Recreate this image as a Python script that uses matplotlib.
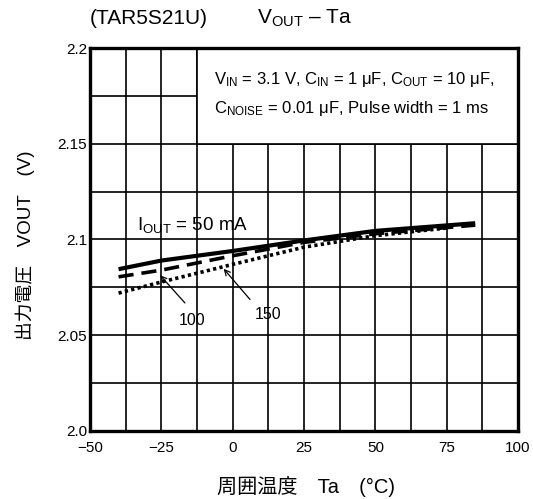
import matplotlib
matplotlib.use('Agg')
import matplotlib.pyplot as plt
from matplotlib.patches import Rectangle

plt.rcParams['font.family'] = ['Liberation Sans', 'Noto Sans CJK JP', 'DejaVu Sans']
plt.rcParams['mathtext.fontset'] = 'custom'
plt.rcParams['mathtext.rm'] = 'Liberation Sans'

# values
ta_50 = [-40, -25, 0, 25, 50, 85]
vout_50 = [2.0845, 2.089, 2.094, 2.0995, 2.1045, 2.1085]
ta_100 = [-40, -25, 0, 25, 50, 85]
vout_100 = [2.0805, 2.084, 2.0915, 2.0985, 2.103, 2.1075]
ta_150 = [-40, -25, 0, 25, 50, 75]
vout_150 = [2.072, 2.0778, 2.087, 2.096, 2.102, 2.106]

x_ticks = [-50, -25, 0, 25, 50, 75, 100]
x_labels = ['\u221250', '\u221225', '0', '25', '50', '75', '100']
y_ticks = [2.0, 2.05, 2.1, 2.15, 2.2]
y_labels = ['2.0', '2.05', '2.1', '2.15', '2.2']

fig = plt.figure(figsize=(5.33, 4.99), dpi=100)
ax = fig.add_axes([0.1689, 0.1363, 0.803, 0.7675])

ax.set_xlim(-50, 100)
ax.set_ylim(2.0, 2.2)

# grid every 12.5 degC and 0.025 V
gx = -37.5
while gx < 100:
    ax.axvline(gx, color='black', lw=1.2, zorder=1)
    gx += 12.5
gy = 2.025
while gy < 2.2:
    ax.axhline(gy, color='black', lw=1.2, zorder=1)
    gy += 0.025

# condition box
ax.add_patch(Rectangle((-12.5, 2.15), 112.5, 0.05, facecolor='white',
                       edgecolor='black', lw=1.2, zorder=2))
ax.text(-6.5, 2.1835, r'$\mathregular{V_{IN}}$ = 3.1 V, $\mathregular{C_{IN}}$ = 1 $\mathregular{\mu}$F, '
        r'$\mathregular{C_{OUT}}$ = 10 $\mathregular{\mu}$F,',
        fontsize=12, va='center', ha='left', zorder=3)
ax.text(-6.5, 2.1685, r'$\mathregular{C_{NOISE}}$ = 0.01 $\mathregular{\mu}$F, Pulse width = 1 ms',
        fontsize=12, va='center', ha='left', zorder=3)

# curves
ax.plot(ta_50, vout_50, color='black', lw=3.0, solid_capstyle='butt', zorder=5)
ax.plot(ta_100, vout_100, color='black', lw=2.6, dashes=(4.2, 2.2), zorder=4)
ax.plot(ta_150, vout_150, color='black', lw=2.6, dashes=(0.9, 0.9), zorder=3)

ax.text(-33.7, 2.1076, r'$\mathregular{I_{OUT}}$ = 50 mA', fontsize=13.5,
        va='center', ha='left', zorder=6)
ax.annotate('', xy=(-26.1, 2.0824), xytext=(-16.1, 2.0658),
            arrowprops=dict(arrowstyle='->', color='black', lw=0.9), zorder=6)
ax.text(-14.2, 2.0575, '100', fontsize=11.5, ha='center', va='center')
ax.annotate('', xy=(-3.8, 2.0858), xytext=(6.7, 2.0676),
            arrowprops=dict(arrowstyle='->', color='black', lw=0.9), zorder=6)
ax.text(12.5, 2.0606, '150', fontsize=11.5, ha='center', va='center')

ax.set_xticks(x_ticks)
ax.set_xticklabels(x_labels, fontsize=11)
ax.set_yticks(y_ticks)
ax.set_yticklabels(y_labels, fontsize=11)
ax.tick_params(length=0)
ax.tick_params(axis='y', pad=2)
ax.tick_params(axis='x', pad=7)
for s in ax.spines.values():
    s.set_linewidth(2.4)
    s.set_zorder(7)

fig.text(0.574, 0.026, '周囲温度　Ta　(°C)', fontsize=14.5, ha='center', va='center')
fig.text(0.047, 0.509, '出力電圧　VOUT　(V)', fontsize=13.5, rotation=90,
         ha='center', va='center')

fig.text(0.169, 0.963, '(TAR5S21U)', fontsize=15, ha='left', va='center')
fig.text(0.482, 0.963, '$\\mathregular{V_{OUT}}$ \u2013 Ta', fontsize=15, ha='left', va='center')

fig.savefig('out.png', dpi=100)
